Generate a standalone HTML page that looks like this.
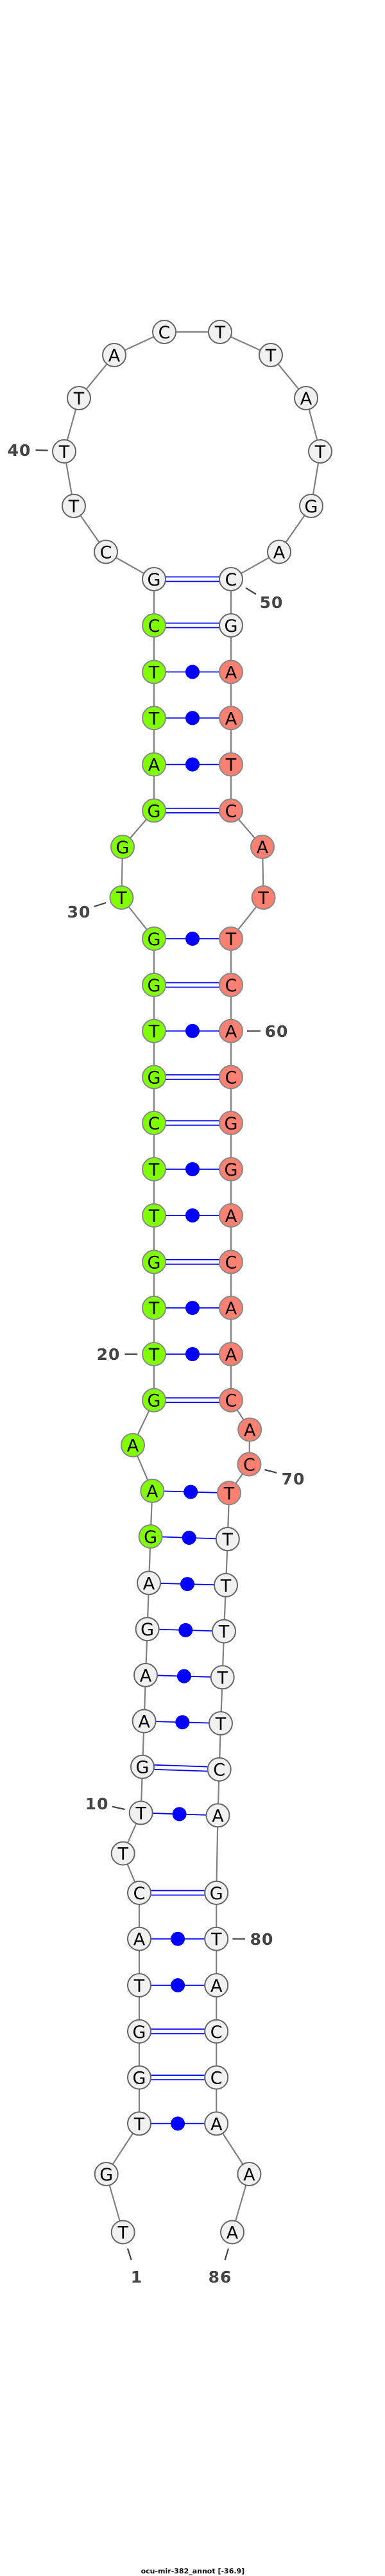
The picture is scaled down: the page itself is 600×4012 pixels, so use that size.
<!DOCTYPE html>
<html><head><meta charset="utf-8"><style>
html,body{margin:0;padding:0;background:#fff}
svg{display:block}
.n text{font-family:"DejaVu Sans","Liberation Sans",sans-serif;font-size:27px;text-anchor:middle;fill:#000}
.w{fill:#f0f0f0;stroke:#666;stroke-width:2}
.g{fill:#80ff00;stroke:#888;stroke-width:2}
.r{fill:#fa8072;stroke:#888;stroke-width:2}
.lb{font-family:"DejaVu Sans","Liberation Sans",sans-serif;font-size:25px;font-weight:bold;fill:#444;letter-spacing:1px}
.bd line{stroke:#0000ff;stroke-width:1.8}
.bd circle{fill:#0000ff}
.tk{stroke:#444;stroke-width:2.2}
</style></head><body>
<svg width="600" height="4012" viewBox="0 0 600 4012" xmlns="http://www.w3.org/2000/svg">
<polyline points="191.7,3476.5 165.7,3386 217,3307.4 217,3235.6 217,3163.8 217,3092 217,3019.7 217,2948 191.7,2886.6 219.7,2823.4 222,2751.7 224.6,2680.6 227,2608.9 229.6,2537.2 232,2465.4 234.6,2393 237.3,2321.9 207,2250.7 240,2180.7 240,2109 240,2037 240,1965.4 240,1893 240,1821 240,1749 240,1677.5 240,1605.7 240,1534 240,1462 189.4,1398 191,1319 240,1262.4 240,1190.6 240,1118.3 240,1046.5 240,974 240,902 165,859.5 115,788 100,703 123,620 178,553 256,517 343,517 422,553 477,620 499,703 485,788 435,859.5 360,902 360,974 360,1046.5 360,1118.3 360,1190.6 360,1262.4 409,1319 410.6,1398 360,1462 360,1534 360,1605.7 360,1677.5 360,1749 360,1821 360,1893 360,1965.4 360,2037 360,2109 360,2180.7 389.2,2226.6 388.4,2280.5 357,2325.3 354.8,2397 352,2468.8 349,2540.6 346.7,2612.3 344,2684 341.7,2755.7 339.5,2827.4 337.2,2948 337.2,3019.7 337.2,3092 337.2,3163.8 337.2,3235.6 337.2,3307.4 388.4,3386 362,3476.5" fill="none" stroke="#808080" stroke-width="2.2"/>
<g class="bd">
<line x1="240" y1="898.5" x2="360" y2="898.5"/><line x1="240" y1="905.5" x2="360" y2="905.5"/>
<line x1="240" y1="970.5" x2="360" y2="970.5"/><line x1="240" y1="977.5" x2="360" y2="977.5"/>
<line x1="240" y1="1258.9" x2="360" y2="1258.9"/><line x1="240" y1="1265.9" x2="360" y2="1265.9"/>
<line x1="240" y1="1530.5" x2="360" y2="1530.5"/><line x1="240" y1="1537.5" x2="360" y2="1537.5"/>
<line x1="240" y1="1674" x2="360" y2="1674"/><line x1="240" y1="1681" x2="360" y2="1681"/>
<line x1="240" y1="1745.5" x2="360" y2="1745.5"/><line x1="240" y1="1752.5" x2="360" y2="1752.5"/>
<line x1="240" y1="1961.9" x2="360" y2="1961.9"/><line x1="240" y1="1968.9" x2="360" y2="1968.9"/>
<line x1="240" y1="2177.2" x2="360" y2="2177.2"/><line x1="240" y1="2184.2" x2="360" y2="2184.2"/>
<line x1="222" y1="2748.2" x2="341.7" y2="2752.2"/><line x1="222" y1="2755.2" x2="341.7" y2="2759.2"/>
<line x1="217" y1="2944.5" x2="337.2" y2="2944.5"/><line x1="217" y1="2951.5" x2="337.2" y2="2951.5"/>
<line x1="217" y1="3160.3" x2="337.2" y2="3160.3"/><line x1="217" y1="3167.3" x2="337.2" y2="3167.3"/>
<line x1="217" y1="3232.1" x2="337.2" y2="3232.1"/><line x1="217" y1="3239.1" x2="337.2" y2="3239.1"/>
<line x1="240" y1="1046.5" x2="360" y2="1046.5"/><circle cx="300" cy="1046.5" r="11"/>
<line x1="240" y1="1118.3" x2="360" y2="1118.3"/><circle cx="300" cy="1118.3" r="11"/>
<line x1="240" y1="1190.6" x2="360" y2="1190.6"/><circle cx="300" cy="1190.6" r="11"/>
<line x1="240" y1="1462" x2="360" y2="1462"/><circle cx="300" cy="1462" r="11"/>
<line x1="240" y1="1605.7" x2="360" y2="1605.7"/><circle cx="300" cy="1605.7" r="11"/>
<line x1="240" y1="1821" x2="360" y2="1821"/><circle cx="300" cy="1821" r="11"/>
<line x1="240" y1="1893" x2="360" y2="1893"/><circle cx="300" cy="1893" r="11"/>
<line x1="240" y1="2037" x2="360" y2="2037"/><circle cx="300" cy="2037" r="11"/>
<line x1="240" y1="2109" x2="360" y2="2109"/><circle cx="300" cy="2109" r="11"/>
<line x1="237.3" y1="2321.9" x2="357" y2="2325.3"/><circle cx="297.2" cy="2323.6" r="11"/>
<line x1="234.6" y1="2393" x2="354.8" y2="2397"/><circle cx="294.7" cy="2395" r="11"/>
<line x1="232" y1="2465.4" x2="352" y2="2468.8"/><circle cx="292" cy="2467.1" r="11"/>
<line x1="229.6" y1="2537.2" x2="349" y2="2540.6"/><circle cx="289.3" cy="2538.9" r="11"/>
<line x1="227" y1="2608.9" x2="346.7" y2="2612.3"/><circle cx="286.9" cy="2610.6" r="11"/>
<line x1="224.6" y1="2680.6" x2="344" y2="2684"/><circle cx="284.3" cy="2682.3" r="11"/>
<line x1="219.7" y1="2823.4" x2="339.5" y2="2827.4"/><circle cx="279.6" cy="2825.4" r="11"/>
<line x1="217" y1="3019.7" x2="337.2" y2="3019.7"/><circle cx="277.1" cy="3019.7" r="11"/>
<line x1="217" y1="3092" x2="337.2" y2="3092"/><circle cx="277.1" cy="3092" r="11"/>
<line x1="217" y1="3307.4" x2="337.2" y2="3307.4"/><circle cx="277.1" cy="3307.4" r="11"/>
</g>
<g class="n">
<circle class="w" cx="191.7" cy="3476.5" r="18"/><text x="191.7" y="3486.5">T</text>
<circle class="w" cx="165.7" cy="3386" r="18"/><text x="165.7" y="3396">G</text>
<circle class="w" cx="217" cy="3307.4" r="18"/><text x="217" y="3317.4">T</text>
<circle class="w" cx="217" cy="3235.6" r="18"/><text x="217" y="3245.6">G</text>
<circle class="w" cx="217" cy="3163.8" r="18"/><text x="217" y="3173.8">G</text>
<circle class="w" cx="217" cy="3092" r="18"/><text x="217" y="3102">T</text>
<circle class="w" cx="217" cy="3019.7" r="18"/><text x="217" y="3029.7">A</text>
<circle class="w" cx="217" cy="2948" r="18"/><text x="217" y="2958">C</text>
<circle class="w" cx="191.7" cy="2886.6" r="18"/><text x="191.7" y="2896.6">T</text>
<circle class="w" cx="219.7" cy="2823.4" r="18"/><text x="219.7" y="2833.4">T</text>
<circle class="w" cx="222" cy="2751.7" r="18"/><text x="222" y="2761.7">G</text>
<circle class="w" cx="224.6" cy="2680.6" r="18"/><text x="224.6" y="2690.6">A</text>
<circle class="w" cx="227" cy="2608.9" r="18"/><text x="227" y="2618.9">A</text>
<circle class="w" cx="229.6" cy="2537.2" r="18"/><text x="229.6" y="2547.2">G</text>
<circle class="w" cx="232" cy="2465.4" r="18"/><text x="232" y="2475.4">A</text>
<circle class="g" cx="234.6" cy="2393" r="18"/><text x="234.6" y="2403">G</text>
<circle class="g" cx="237.3" cy="2321.9" r="18"/><text x="237.3" y="2331.9">A</text>
<circle class="g" cx="207" cy="2250.7" r="18"/><text x="207" y="2260.7">A</text>
<circle class="g" cx="240" cy="2180.7" r="18"/><text x="240" y="2190.7">G</text>
<circle class="g" cx="240" cy="2109" r="18"/><text x="240" y="2119">T</text>
<circle class="g" cx="240" cy="2037" r="18"/><text x="240" y="2047">T</text>
<circle class="g" cx="240" cy="1965.4" r="18"/><text x="240" y="1975.4">G</text>
<circle class="g" cx="240" cy="1893" r="18"/><text x="240" y="1903">T</text>
<circle class="g" cx="240" cy="1821" r="18"/><text x="240" y="1831">T</text>
<circle class="g" cx="240" cy="1749" r="18"/><text x="240" y="1759">C</text>
<circle class="g" cx="240" cy="1677.5" r="18"/><text x="240" y="1687.5">G</text>
<circle class="g" cx="240" cy="1605.7" r="18"/><text x="240" y="1615.7">T</text>
<circle class="g" cx="240" cy="1534" r="18"/><text x="240" y="1544">G</text>
<circle class="g" cx="240" cy="1462" r="18"/><text x="240" y="1472">G</text>
<circle class="g" cx="189.4" cy="1398" r="18"/><text x="189.4" y="1408">T</text>
<circle class="g" cx="191" cy="1319" r="18"/><text x="191" y="1329">G</text>
<circle class="g" cx="240" cy="1262.4" r="18"/><text x="240" y="1272.4">G</text>
<circle class="g" cx="240" cy="1190.6" r="18"/><text x="240" y="1200.6">A</text>
<circle class="g" cx="240" cy="1118.3" r="18"/><text x="240" y="1128.3">T</text>
<circle class="g" cx="240" cy="1046.5" r="18"/><text x="240" y="1056.5">T</text>
<circle class="g" cx="240" cy="974" r="18"/><text x="240" y="984">C</text>
<circle class="w" cx="240" cy="902" r="18"/><text x="240" y="912">G</text>
<circle class="w" cx="165" cy="859.5" r="18"/><text x="165" y="869.5">C</text>
<circle class="w" cx="115" cy="788" r="18"/><text x="115" y="798">T</text>
<circle class="w" cx="100" cy="703" r="18"/><text x="100" y="713">T</text>
<circle class="w" cx="123" cy="620" r="18"/><text x="123" y="630">T</text>
<circle class="w" cx="178" cy="553" r="18"/><text x="178" y="563">A</text>
<circle class="w" cx="256" cy="517" r="18"/><text x="256" y="527">C</text>
<circle class="w" cx="343" cy="517" r="18"/><text x="343" y="527">T</text>
<circle class="w" cx="422" cy="553" r="18"/><text x="422" y="563">T</text>
<circle class="w" cx="477" cy="620" r="18"/><text x="477" y="630">A</text>
<circle class="w" cx="499" cy="703" r="18"/><text x="499" y="713">T</text>
<circle class="w" cx="485" cy="788" r="18"/><text x="485" y="798">G</text>
<circle class="w" cx="435" cy="859.5" r="18"/><text x="435" y="869.5">A</text>
<circle class="w" cx="360" cy="902" r="18"/><text x="360" y="912">C</text>
<circle class="w" cx="360" cy="974" r="18"/><text x="360" y="984">G</text>
<circle class="r" cx="360" cy="1046.5" r="18"/><text x="360" y="1056.5">A</text>
<circle class="r" cx="360" cy="1118.3" r="18"/><text x="360" y="1128.3">A</text>
<circle class="r" cx="360" cy="1190.6" r="18"/><text x="360" y="1200.6">T</text>
<circle class="r" cx="360" cy="1262.4" r="18"/><text x="360" y="1272.4">C</text>
<circle class="r" cx="409" cy="1319" r="18"/><text x="409" y="1329">A</text>
<circle class="r" cx="410.6" cy="1398" r="18"/><text x="410.6" y="1408">T</text>
<circle class="r" cx="360" cy="1462" r="18"/><text x="360" y="1472">T</text>
<circle class="r" cx="360" cy="1534" r="18"/><text x="360" y="1544">C</text>
<circle class="r" cx="360" cy="1605.7" r="18"/><text x="360" y="1615.7">A</text>
<circle class="r" cx="360" cy="1677.5" r="18"/><text x="360" y="1687.5">C</text>
<circle class="r" cx="360" cy="1749" r="18"/><text x="360" y="1759">G</text>
<circle class="r" cx="360" cy="1821" r="18"/><text x="360" y="1831">G</text>
<circle class="r" cx="360" cy="1893" r="18"/><text x="360" y="1903">A</text>
<circle class="r" cx="360" cy="1965.4" r="18"/><text x="360" y="1975.4">C</text>
<circle class="r" cx="360" cy="2037" r="18"/><text x="360" y="2047">A</text>
<circle class="r" cx="360" cy="2109" r="18"/><text x="360" y="2119">A</text>
<circle class="r" cx="360" cy="2180.7" r="18"/><text x="360" y="2190.7">C</text>
<circle class="r" cx="389.2" cy="2226.6" r="18"/><text x="389.2" y="2236.6">A</text>
<circle class="r" cx="388.4" cy="2280.5" r="18"/><text x="388.4" y="2290.5">C</text>
<circle class="r" cx="357" cy="2325.3" r="18"/><text x="357" y="2335.3">T</text>
<circle class="w" cx="354.8" cy="2397" r="18"/><text x="354.8" y="2407">T</text>
<circle class="w" cx="352" cy="2468.8" r="18"/><text x="352" y="2478.8">T</text>
<circle class="w" cx="349" cy="2540.6" r="18"/><text x="349" y="2550.6">T</text>
<circle class="w" cx="346.7" cy="2612.3" r="18"/><text x="346.7" y="2622.3">T</text>
<circle class="w" cx="344" cy="2684" r="18"/><text x="344" y="2694">T</text>
<circle class="w" cx="341.7" cy="2755.7" r="18"/><text x="341.7" y="2765.7">C</text>
<circle class="w" cx="339.5" cy="2827.4" r="18"/><text x="339.5" y="2837.4">A</text>
<circle class="w" cx="337.2" cy="2948" r="18"/><text x="337.2" y="2958">G</text>
<circle class="w" cx="337.2" cy="3019.7" r="18"/><text x="337.2" y="3029.7">T</text>
<circle class="w" cx="337.2" cy="3092" r="18"/><text x="337.2" y="3102">A</text>
<circle class="w" cx="337.2" cy="3163.8" r="18"/><text x="337.2" y="3173.8">C</text>
<circle class="w" cx="337.2" cy="3235.6" r="18"/><text x="337.2" y="3245.6">C</text>
<circle class="w" cx="337.2" cy="3307.4" r="18"/><text x="337.2" y="3317.4">A</text>
<circle class="w" cx="388.4" cy="3386" r="18"/><text x="388.4" y="3396">A</text>
<circle class="w" cx="362" cy="3476.5" r="18"/><text x="362" y="3486.5">A</text>
</g>
<line class="tk" x1="55.5" y1="701" x2="74.6" y2="701.5"/>
<line class="tk" x1="383" y1="915.7" x2="399" y2="925.5"/>
<line class="tk" x1="146.6" y1="1412" x2="165" y2="1406"/>
<line class="tk" x1="385" y1="1605.7" x2="406" y2="1605.7"/>
<line class="tk" x1="194.4" y1="2109" x2="214.3" y2="2109"/>
<line class="tk" x1="412.5" y1="2289" x2="431.3" y2="2293.8"/>
<line class="tk" x1="175" y1="2813.7" x2="194.4" y2="2818"/>
<line class="tk" x1="362.4" y1="3019.7" x2="382" y2="3019.7"/>
<line class="tk" x1="199" y1="3502" x2="204.7" y2="3520"/>
<line class="tk" x1="356" y1="3502" x2="350.5" y2="3520"/>
<text class="lb" x="30" y="710" text-anchor="middle">40</text>
<text class="lb" x="423" y="947" text-anchor="middle">50</text>
<text class="lb" x="123" y="1429" text-anchor="middle">30</text>
<text class="lb" x="431" y="1615" text-anchor="middle">60</text>
<text class="lb" x="169" y="2118" text-anchor="middle">20</text>
<text class="lb" x="457" y="2312" text-anchor="middle">70</text>
<text class="lb" x="151" y="2818" text-anchor="middle">10</text>
<text class="lb" x="408" y="3029" text-anchor="middle">80</text>
<text class="lb" x="213" y="3555" text-anchor="middle">1</text>
<text class="lb" x="343" y="3555" text-anchor="middle">86</text>
<text x="300.4" y="4008" text-anchor="middle" font-family="DejaVu Sans, Liberation Sans, sans-serif" font-size="11" font-weight="bold" fill="#111">ocu-mir-382_annot [-36.9]</text>
</svg>
</body></html>
